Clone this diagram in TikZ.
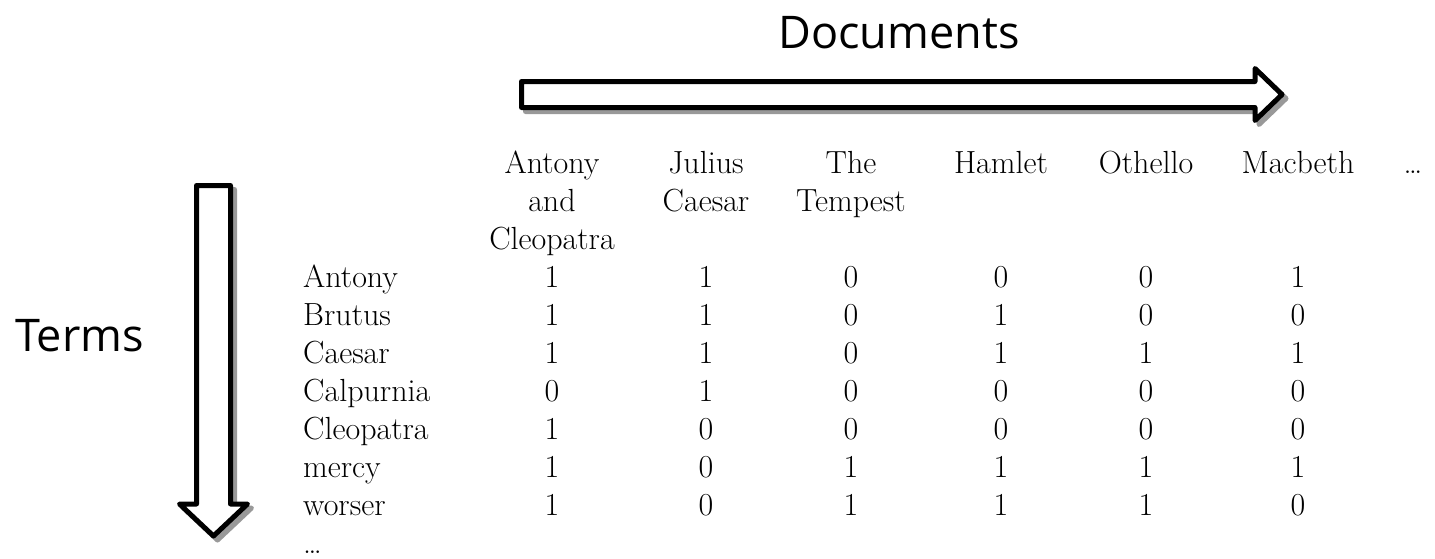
\documentclass[tikz,border=0pt]{standalone}
\usepackage{fontspec}
\newfontfamily\labelfont{Open Sans}
\begin{document}
\begin{tikzpicture}[x=1pt,y=-1pt,
  cell/.style={inner sep=0pt,anchor=base,font=\fontsize{32}{38}\selectfont},
  rowlab/.style={inner sep=0pt,anchor=base west,font=\fontsize{32}{38}\selectfont},
  biglabel/.style={inner sep=0pt,font=\labelfont\fontsize{45}{54}\selectfont},
  blockarrow/.style={draw=black,fill=white,line width=5pt,line join=round},
  arrowshadow/.style={draw=black!40,fill=black!40,line width=5pt,line join=round}]
\useasboundingbox (0,0) rectangle (1435,558);

% Documents arrow
\node[biglabel,anchor=base] (docs) at (899,48) {Documents};
\begin{scope}[shift={(4,4)}]
\path[arrowshadow] (521.5,81.5) -- (1255,81.5) -- (1255,68.5) -- (1282,94.5) -- (1255,120.5) -- (1255,107.5) -- (521.5,107.5) -- cycle;
\end{scope}
\path[blockarrow] (521.5,81.5) -- (1255,81.5) -- (1255,68.5) -- (1282,94.5) -- (1255,120.5) -- (1255,107.5) -- (521.5,107.5) -- cycle;

% Terms arrow
\node[biglabel,anchor=base west] (terms) at (15,351) {Terms};
\begin{scope}[shift={(4,4)}]
\path[arrowshadow] (196.5,185.5) -- (230.5,185.5) -- (230.5,504) -- (247.5,504) -- (213.5,536) -- (179.5,504) -- (196.5,504) -- cycle;
\end{scope}
\path[blockarrow] (196.5,185.5) -- (230.5,185.5) -- (230.5,504) -- (247.5,504) -- (213.5,536) -- (179.5,504) -- (196.5,504) -- cycle;

% header
\node[cell] (h1a) at (552,173) {Antony};
\node[cell] (h1b) at (552,211) {and};
\node[cell] (h1c) at (552,249) {Cleopatra};
\node[cell] (h2a) at (706,173) {Julius};
\node[cell] (h2b) at (706,211) {Caesar};
\node[cell] (h3a) at (851,173) {The};
\node[cell] (h3b) at (851,211) {Tempest};
\node[cell] (h4) at (1001,173) {Hamlet};
\node[cell] (h5) at (1146,173) {Othello};
\node[cell] (h6) at (1298,173) {Macbeth};
\node[cell] (h7) at (1413,173) {\ldots};

% rows
\foreach \lab/\vals [count=\i] in {
  Antony/{1,1,0,0,0,1},
  Brutus/{1,1,0,1,0,0},
  Caesar/{1,1,0,1,1,1},
  Calpurnia/{0,1,0,0,0,0},
  Cleopatra/{1,0,0,0,0,0},
  mercy/{1,0,1,1,1,1},
  worser/{1,0,1,1,1,0}} {
  \pgfmathsetmacro{\yy}{287+38*(\i-1)}
  \node[rowlab] (r\i) at (303,\yy) {\lab};
  \foreach \v [count=\j] in \vals {
    \pgfmathsetmacro{\xx}{{552,706,851,1001,1146,1298}[\j-1]}
    \node[cell] (v\i-\j) at (\xx,\yy) {\v};
  }
}
\node[rowlab] (r8) at (303,553) {\ldots};
\end{tikzpicture}
\end{document}
